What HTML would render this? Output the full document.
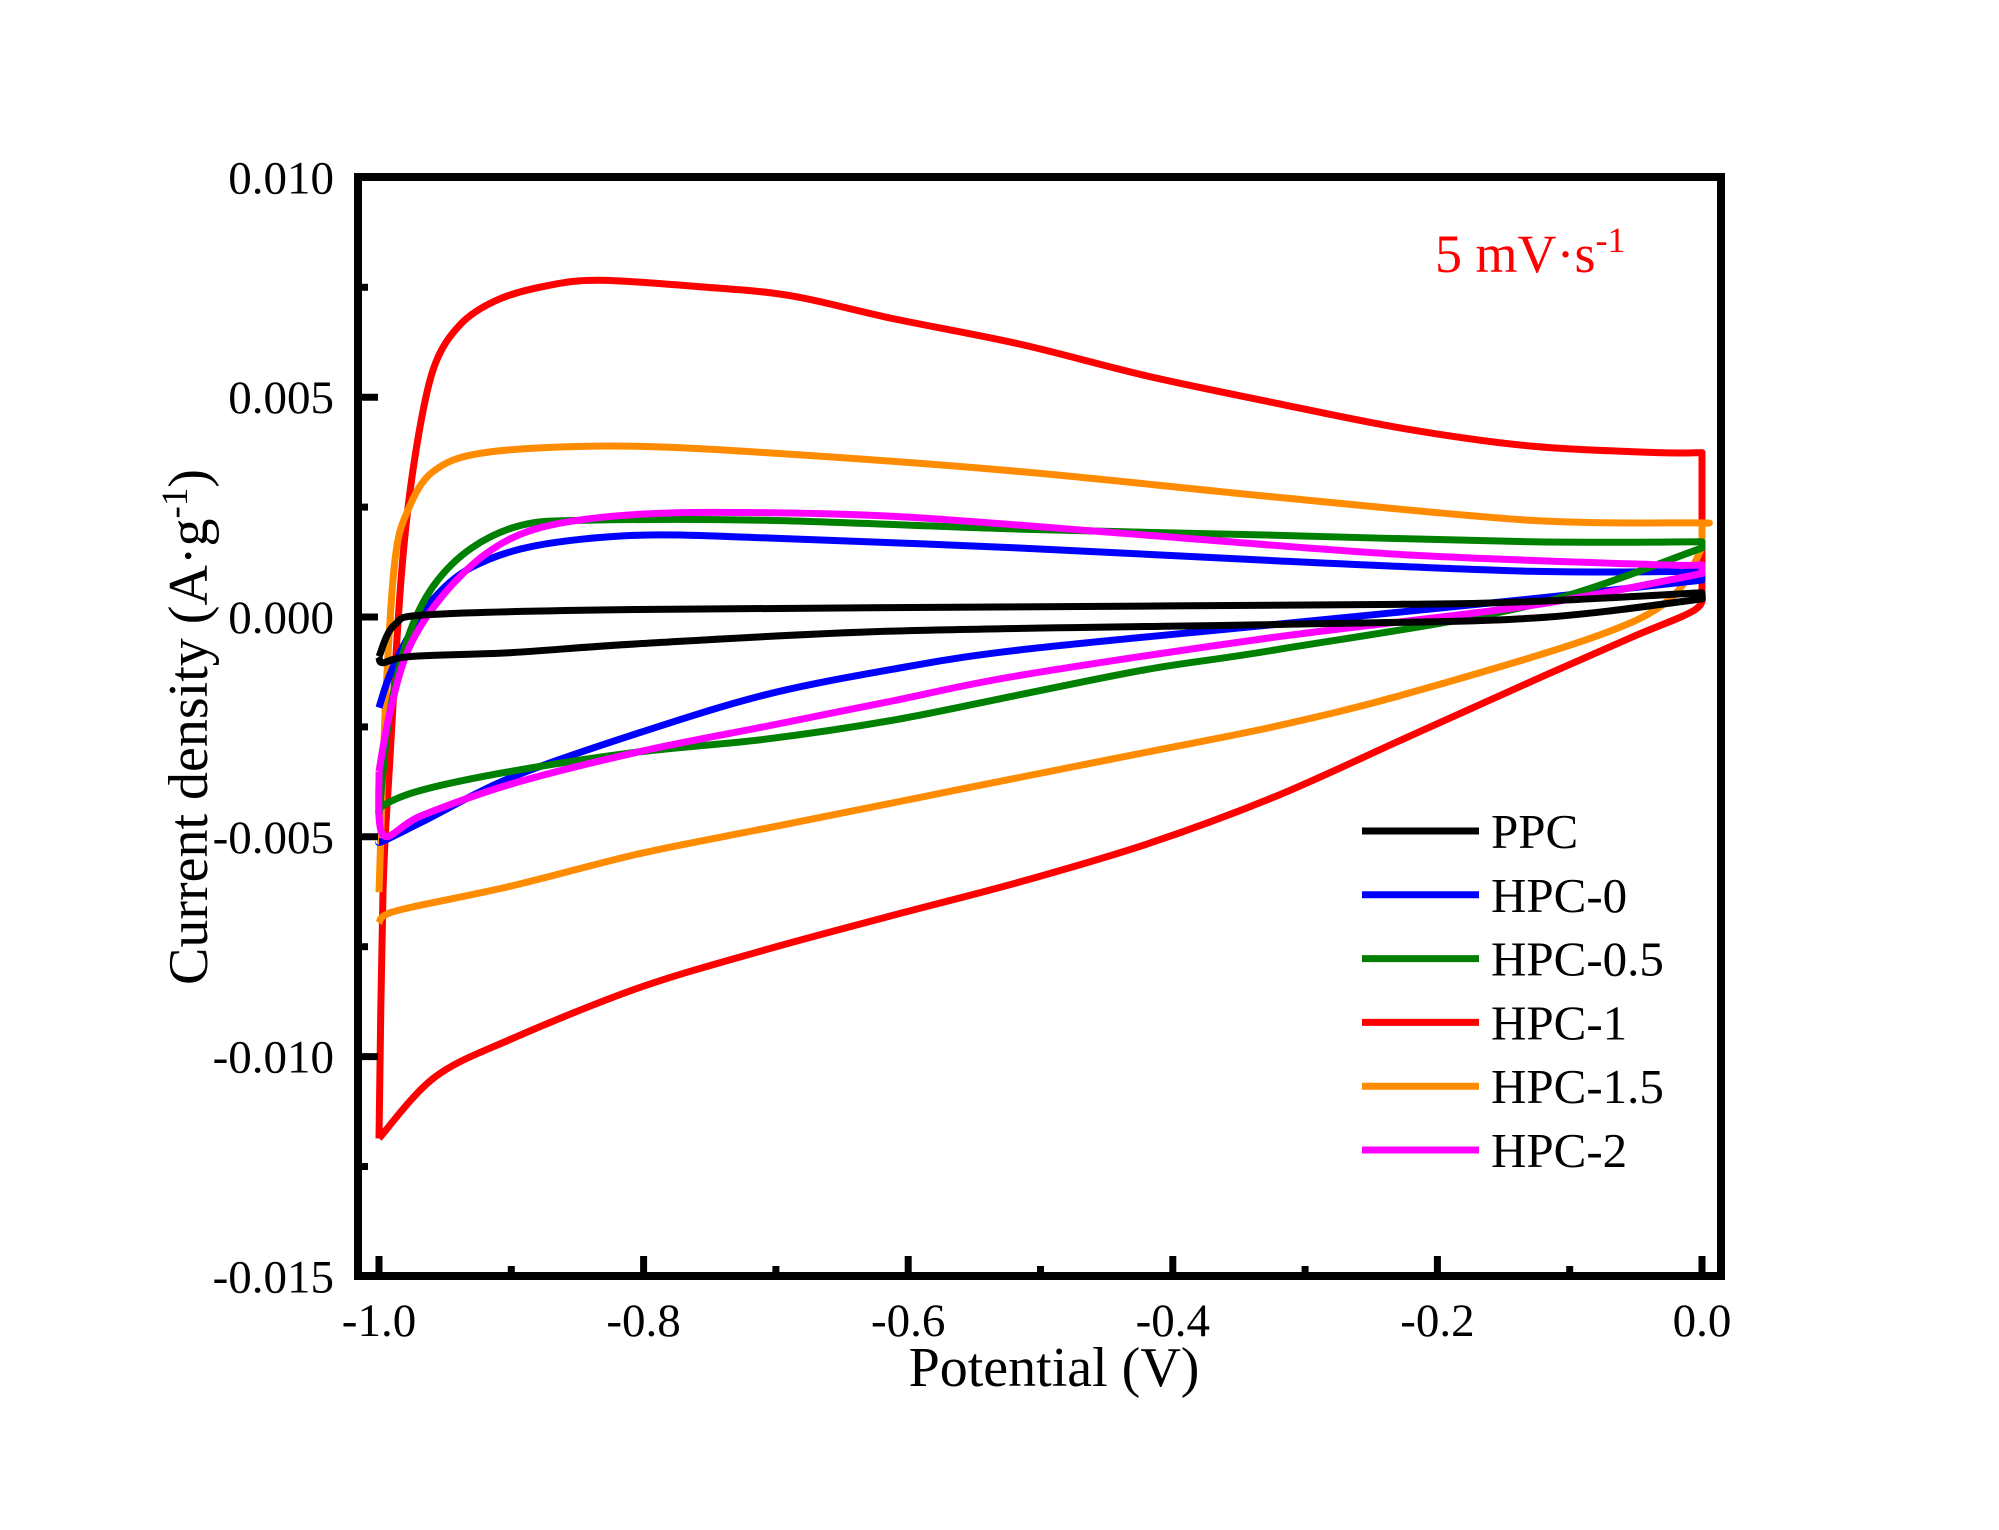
<!DOCTYPE html>
<html><head><meta charset="utf-8"><style>
html,body{margin:0;padding:0;background:#fff;}
svg{display:block;font-family:"Liberation Serif",serif;}
</style></head><body>
<svg id="chart" width="1999" height="1530" viewBox="0 0 1999 1530" xmlns="http://www.w3.org/2000/svg">
<g id="series"></g>
<rect x="358" y="177" width="1363" height="1099" fill="none" stroke="#000" stroke-width="8"/>
<g id="axes"></g>
<g id="legend"></g>
<text x="1435" y="272" font-size="54" fill="#ff0000">5 mV·s<tspan dy="-20" font-size="36">-1</tspan></text>
<text x="1054" y="1386" font-size="56" text-anchor="middle">Potential (V)</text>
<text transform="translate(207,727) rotate(-90)" font-size="56" text-anchor="middle">Current density (A·g<tspan dy="-20" font-size="37">-1</tspan><tspan dy="20">)</tspan></text>
</svg>
<script>
const seriesNames = ["PPC","HPC-0","HPC-0.5","HPC-1","HPC-1.5","HPC-2"];
const seriesColors = ["#000000","#0000ff","#008000","#ff0000","#ff8c00","#ff00ff"];
const xTicks = [-1.0,-0.8,-0.6,-0.4,-0.2,0.0];
const xTickLabels = ["-1.0","-0.8","-0.6","-0.4","-0.2","0.0"];
const yTicks = [0.010,0.005,0.000,-0.005,-0.010,-0.015];
const yTickLabels = ["0.010","0.005","0.000","-0.005","-0.010","-0.015"];
const ppcV = [-1,-0.988,-0.959,-0.804,-0.516,-0.226,-0.130,0,0,-0.130,-0.323,-0.612,-0.804,-0.900,-0.977,-0.997,-1];
const ppcJ = [-0.00090,-0.00017,0.00006,0.00017,0.00023,0.00029,0.00035,0.00055,0.00041,-0.00003,-0.00017,-0.00032,-0.00061,-0.00081,-0.00090,-0.00104,-0.00090];
const hpc0V = [-1,-0.992,-0.978,-0.959,-0.930,-0.882,-0.804,-0.708,-0.516,-0.323,-0.130,0,0,-0.130,-0.323,-0.516,-0.612,-0.708,-0.804,-0.900,-0.968,-0.997,-1];
const hpc0J = [-0.00206,-0.00133,-0.00046,0.00041,0.00113,0.00162,0.00186,0.00180,0.00157,0.00128,0.00104,0.00104,0.00084,0.00041,-0.00017,-0.00075,-0.00119,-0.00177,-0.00264,-0.00365,-0.00467,-0.00510,-0.00510];
const hpc05V = [-1,-0.992,-0.978,-0.959,-0.930,-0.892,-0.844,-0.708,-0.516,-0.323,-0.130,0,0,-0.130,-0.323,-0.419,-0.516,-0.612,-0.708,-0.804,-0.900,-0.968,-0.997,-1];
const hpc05J = [-0.00452,-0.00220,-0.00046,0.00070,0.00157,0.00209,0.00220,0.00220,0.00200,0.00186,0.00171,0.00171,0.00157,0.00026,-0.00075,-0.00119,-0.00177,-0.00235,-0.00278,-0.00307,-0.00351,-0.00394,-0.00429,-0.00452];
const hpc1V = [-1,-0.997,-0.992,-0.983,-0.973,-0.959,-0.939,-0.910,-0.872,-0.833,-0.756,-0.689,-0.612,-0.516,-0.419,-0.323,-0.226,-0.130,-0.034,0,0,-0.005,-0.053,-0.130,-0.226,-0.323,-0.419,-0.516,-0.612,-0.708,-0.804,-0.900,-0.958,-1];
const hpc1J = [-0.01186,-0.00626,-0.00336,0.00099,0.00360,0.00563,0.00664,0.00722,0.00754,0.00766,0.00751,0.00731,0.00679,0.00621,0.00548,0.00487,0.00429,0.00389,0.00374,0.00374,0.00060,0.00017,-0.00046,-0.00148,-0.00278,-0.00409,-0.00516,-0.00603,-0.00679,-0.00757,-0.00844,-0.00960,-0.01047,-0.01186];
const hpc15V = [-1,-0.995,-0.988,-0.978,-0.959,-0.920,-0.824,-0.708,-0.516,-0.323,-0.130,-0.005,0,0,-0.024,-0.082,-0.226,-0.323,-0.419,-0.516,-0.612,-0.708,-0.804,-0.900,-0.977,-0.996,-1];
const hpc15J = [-0.00626,-0.00191,0.00128,0.00244,0.00331,0.00374,0.00389,0.00374,0.00331,0.00273,0.00220,0.00214,0.00214,0.00157,0.00041,-0.00046,-0.00177,-0.00249,-0.00307,-0.00365,-0.00423,-0.00481,-0.00539,-0.00612,-0.00661,-0.00679,-0.00696];
const hpc2V = [-1,-0.992,-0.978,-0.954,-0.920,-0.882,-0.824,-0.747,-0.612,-0.419,-0.226,-0.034,0,0,-0.130,-0.323,-0.516,-0.612,-0.708,-0.804,-0.900,-0.968,-0.997,-1];
const hpc2J = [-0.00351,-0.00220,-0.00075,0.00041,0.00142,0.00200,0.00229,0.00238,0.00229,0.00186,0.00142,0.00119,0.00119,0.00099,0.00026,-0.00046,-0.00133,-0.00191,-0.00249,-0.00307,-0.00380,-0.00452,-0.00496,-0.00351];

const NS = "http://www.w3.org/2000/svg";
function xs(v){ return 1702 + v*1323; }
function ys(j){ return 617 - j*43960; }
function mk(tag, attrs, parent){ const e=document.createElementNS(NS,tag); for(const k in attrs) e.setAttribute(k,attrs[k]); parent.appendChild(e); return e; }
function smoothPath(pts){
  let d='M'+pts[0][0].toFixed(1)+' '+pts[0][1].toFixed(1);
  for(let i=0;i<pts.length-1;i++){
    let p0=pts[Math.max(0,i-1)], p1=pts[i], p2=pts[i+1], p3=pts[Math.min(pts.length-1,i+2)];
    if(Math.abs(p2[0]-p1[0])<0.5){ d+=' L'+p2[0].toFixed(1)+' '+p2[1].toFixed(1); continue; }
    if(Math.abs(p0[0]-p1[0])<0.5) p0=p1;
    if(Math.abs(p3[0]-p2[0])<0.5) p3=p2;
    const t=0.16;
    const c1=[p1[0]+(p2[0]-p0[0])*t, p1[1]+(p2[1]-p0[1])*t];
    const c2=[p2[0]-(p3[0]-p1[0])*t, p2[1]-(p3[1]-p1[1])*t];
    d+=' C'+c1[0].toFixed(1)+' '+c1[1].toFixed(1)+' '+c2[0].toFixed(1)+' '+c2[1].toFixed(1)+' '+p2[0].toFixed(1)+' '+p2[1].toFixed(1);
  }
  return d;
}

const allV=[ppcV,hpc0V,hpc05V,hpc1V,hpc15V,hpc2V];
const allJ=[ppcJ,hpc0J,hpc05J,hpc1J,hpc15J,hpc2J];
const drawOrder=[3,4,1,2,5,0];
const sg=document.getElementById('series');
drawOrder.forEach(i=>{
  const pts=allV[i].map((v,k)=>[xs(v),ys(allJ[i][k])]);
  const p=mk('path',{d:smoothPath(pts),fill:'none',stroke:seriesColors[i],'stroke-width':7,'stroke-linejoin':'round'},sg);
  
  
});

const ax=document.getElementById('axes');
xTicks.forEach((t,i)=>{
  const x=xs(t);
  const l=mk('line',{x1:x,x2:x,y1:1276,y2:1256,stroke:'#000','stroke-width':7},ax);
  
  
  if(i<xTicks.length-1){
    const xm=xs(t+0.1);
    const m=mk('line',{x1:xm,x2:xm,y1:1276,y2:1266,stroke:'#000','stroke-width':7},ax);
    
    
  }
  const tx=mk('text',{x:x,y:1336,'font-size':47,'text-anchor':'middle'},ax);
  tx.textContent=xTickLabels[i];
  
  
});
yTicks.forEach((t,i)=>{
  const y=ys(t);
  const l=mk('line',{x1:358,x2:378,y1:y,y2:y,stroke:'#000','stroke-width':7},ax);
  
  
  if(i<yTicks.length-1){
    const ym=ys(t-0.0025);
    const m=mk('line',{x1:358,x2:368,y1:ym,y2:ym,stroke:'#000','stroke-width':7},ax);
    
    
  }
  const tx=mk('text',{x:334,y:y+16,'font-size':47,'text-anchor':'end'},ax);
  tx.textContent=yTickLabels[i];
  
  
});

const lg=document.getElementById('legend');
seriesNames.forEach((n,i)=>{
  const y=831+i*63.8;
  const g=mk('g',{},lg);
  
  
  mk('line',{x1:1362,x2:1479,y1:y,y2:y,stroke:seriesColors[i],'stroke-width':7},g);
  const t=mk('text',{x:1491,y:y+17,'font-size':49},g);
  t.textContent=n;
});
</script>
</body></html>
